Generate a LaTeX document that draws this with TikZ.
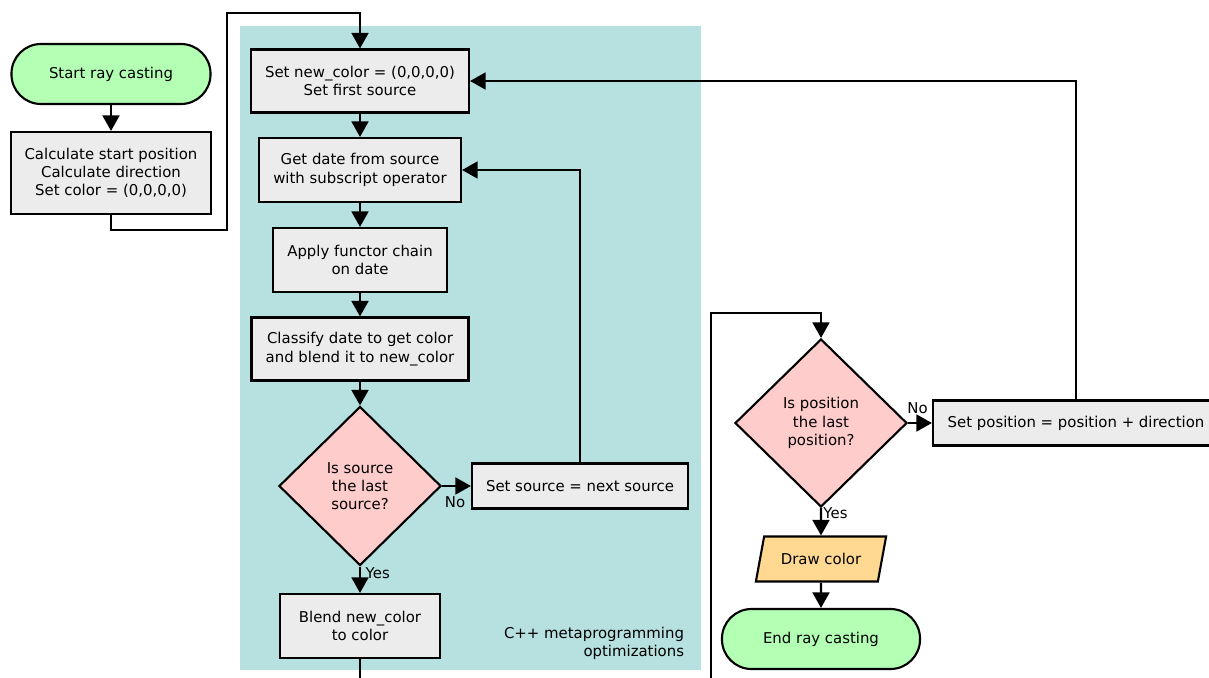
\documentclass[tikz,border=0pt]{standalone}
\usepackage{fontspec}
\setmainfont{DejaVu Sans}
\usetikzlibrary{shapes.geometric,arrows.meta}

\definecolor{optteal}{HTML}{B7E1E0}
\definecolor{boxgray}{HTML}{ECECEC}
\definecolor{termgreen}{HTML}{B3FFB3}
\definecolor{decpink}{HTML}{FFCCCC}
\definecolor{ioorange}{HTML}{FFD992}

\tikzset{
  block/.style={draw, line width=1.5pt, fill=boxgray, align=center, inner sep=2pt},
  terminal/.style={block, fill=termgreen, rounded corners=0.74cm},
  decision/.style={block, diamond, fill=decpink, inner sep=0pt},
  inout/.style={block, trapezium, trapezium left angle=70, trapezium right angle=110,
    trapezium stretches=true, fill=ioorange},
  flow/.style={line width=1.5pt, -{Triangle[length=11pt,width=12pt]}},
  cut/.style={line width=1.5pt},
}

\begin{document}
\begin{tikzpicture}[x=0.025cm, y=-0.025cm, font=\fontsize{10.6}{13}\selectfont]
      \useasboundingbox (0,0) rectangle (1209,677);
      \clip (0,0) rectangle (1209,677);
      \fill[optteal] (240,26) rectangle (701,670);
      \node[align=right, anchor=south east] (optlabel) at (689,665) {C++ metaprogramming\\optimizations};

      \node[terminal, minimum width=4.975cm, minimum height=1.5cm] (start) at (111,74) {Start ray casting};
      \node[block, minimum width=5cm, minimum height=2.05cm] (calc) at (111,173) {Calculate start position\\Calculate direction\\Set color = (0,0,0,0)};
      \node[block, minimum width=5.45cm, minimum height=1.575cm] (newcol) at (360,81) {Set new\_color = (0,0,0,0)\\Set first source};
      \node[block, minimum width=5.05cm, minimum height=1.6cm] (getdate) at (360,170) {Get date from source\\with subscript operator};
      \node[block, minimum width=4.35cm, minimum height=1.6cm] (functor) at (360,260) {Apply functor chain\\on date};
      \node[block, minimum width=5.425cm, minimum height=1.575cm] (classify) at (360,349) {Classify date to get color\\and blend it to new\_color};
      \node[decision, minimum width=4.05cm, minimum height=3.975cm] (srcq) at (360,486) {Is source\\the last\\source?};
      \node[block, minimum width=5.4cm, minimum height=1.125cm] (setsrc) at (580,486) {Set source = next source};
      \node[block, minimum width=4cm, minimum height=1.6cm] (blend) at (360,626) {Blend new\_color\\to color};

      \node[decision, minimum width=4.3cm, minimum height=4.2cm] (posq) at (821,423) {Is position\\the last\\position?};
      \node[block, minimum width=7.15cm, minimum height=1.125cm] (setpos) at (1076,423) {Set position = position + direction};
      \node[inout, minimum width=3.275cm, minimum height=1.125cm] (drawcol) at (821,559) {Draw color};
      \node[terminal, minimum width=4.95cm, minimum height=1.5cm] (endnode) at (821,639) {End ray casting};

      \coordinate (outA) at (360,680);
      \coordinate (inB) at (711,680);

      \draw[flow] (start) -- (calc);
      \draw[flow] (calc.south) |- (227,230) -- (227,13) -| (newcol.north);
      \draw[flow] (newcol) -- (getdate);
      \draw[flow] (getdate) -- (functor);
      \draw[flow] (functor) -- (classify);
      \draw[flow] (classify) -- (srcq);
      \draw[flow] (srcq) -- node[below, pos=0.45, inner sep=7pt]{No} (setsrc);
      \draw[flow] (setsrc.north) |- (getdate.east);
      \draw[flow] (srcq) -- node[right, pos=0.25]{Yes} (blend);
      \draw[cut] (blend) -- (outA);
      \draw[flow] (inB) |- (821,313) -- (posq.north);
      \draw[flow] (posq) -- node[above, pos=0.4, inner sep=6pt]{No} (setpos);
      \draw[flow] (setpos.north) |- (newcol.east);
      \draw[flow] (posq) -- node[right, pos=0.2, inner sep=1pt]{Yes} (drawcol);
      \draw[flow] (drawcol) -- (endnode);
\end{tikzpicture}
\end{document}
